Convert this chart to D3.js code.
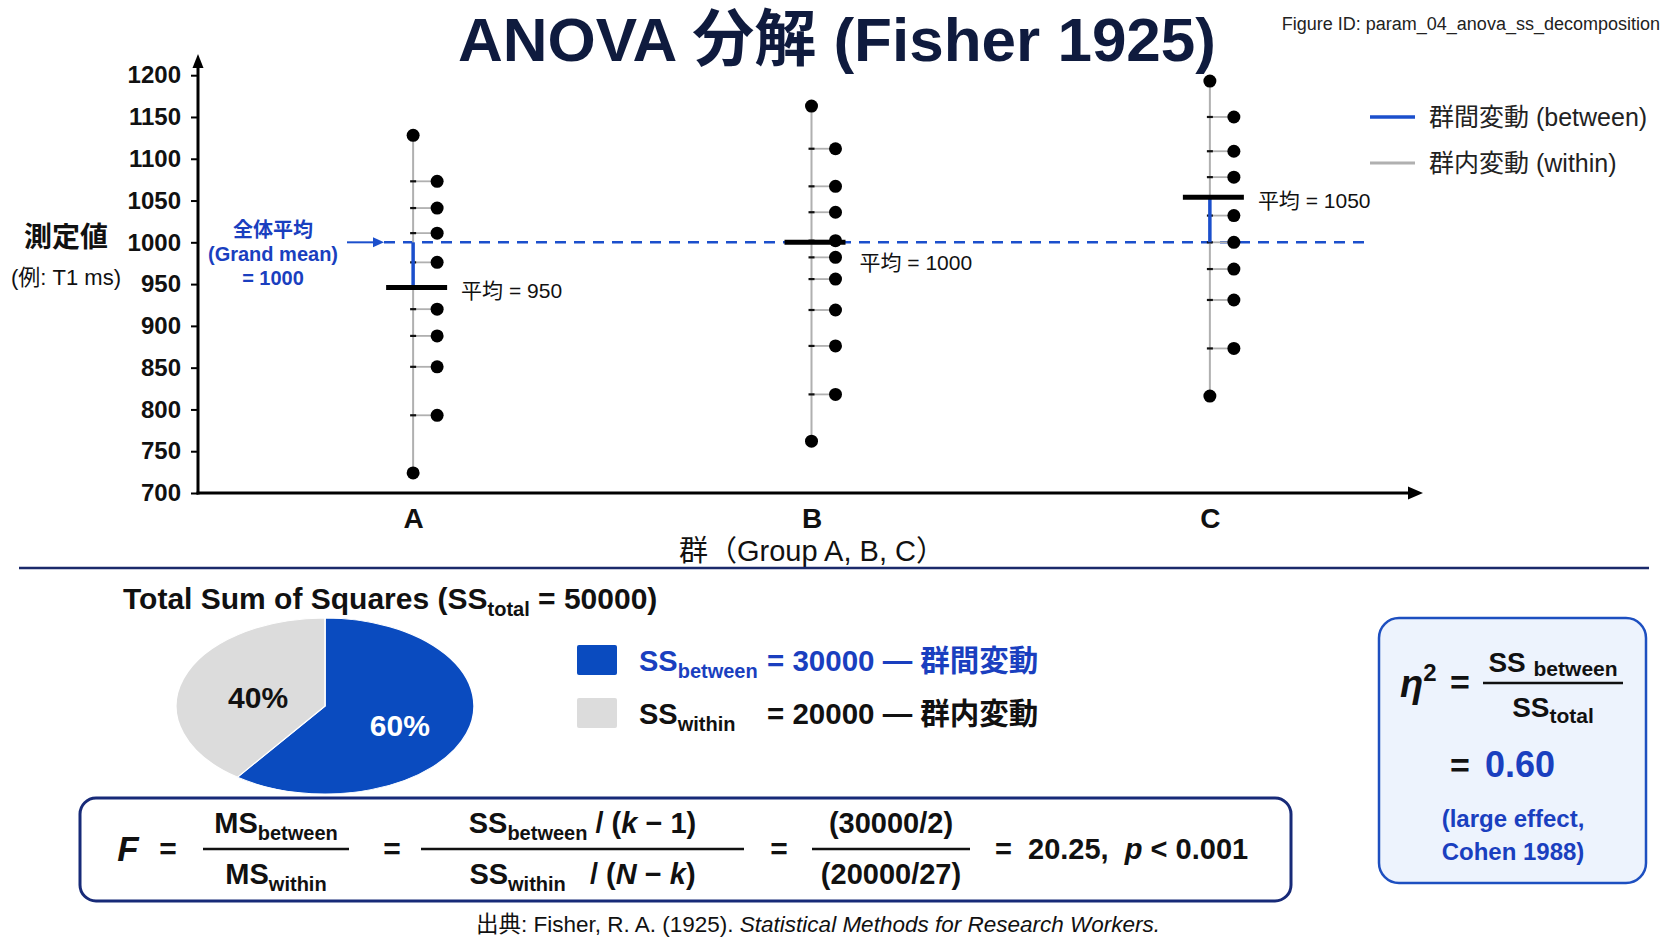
<!DOCTYPE html>
<html lang="ja">
<head>
<meta charset="utf-8">
<title>ANOVA 分解 (Fisher 1925)</title>
<script src="https://cdnjs.cloudflare.com/ajax/libs/d3/7.8.5/d3.min.js"></script>
<style>
	body {
		margin: 0;
		padding: 0;
		background: #fff;
	}

	svg {
		display: block;
		font-family: "Liberation Sans", Arial, "Noto Sans CJK JP", sans-serif;
	}

	text {
		white-space: pre;
	}
</style>
</head>

<body>
	<svg id="chart" width="1672" height="941"></svg>
	<script>

		// Data
		var groups = ["A", "B", "C"];
		var groupA = [1128, 1073, 1041, 1011, 976, 920, 888, 851, 793, 724];
		var groupB = [1163, 1112, 1067, 1036, 1002, 982, 956, 919, 876, 818, 762];
		var groupC = [1193, 1150, 1109, 1078, 1032, 1000, 968, 931, 873, 816];
		var groupMeans = [946, 1000, 1054];
		var meanLabels = ["平均 = 950", "平均 = 1000", "平均 = 1050"];
		var grandMean = 1000;
		var yTicks = [700, 750, 800, 850, 900, 950, 1000, 1050, 1100, 1150, 1200];

		var ssNames = ["between", "within"];
		var ssValues = [30000, 20000];
		var ssPercent = ["60%", "40%"];
		var ssJapanese = ["群間変動", "群内変動"];

		// Colors
		var navy = "#0f1b3e";
		var blueLine = "#1b4fcc";
		var blueText = "#1a3fbf";
		var pieBlue = "#0a4bbf";
		var pieGray = "#dcdcdc";
		var grayLine = "#b0b0b0";

		var svg = d3.select("#chart");

		// ---------- helpers ----------
		// parts: [text, kind]  kind: "" normal, "s" subscript, "i" italic, "u" superscript
		function rich(g, x, y, parts, o) {
			var t = g.append("text")
				.attr("x", x).attr("y", y)
				.attr("text-anchor", o.anchor || "start")
				.attr("font-size", o.size)
				.attr("font-weight", o.weight || "bold")
				.attr("fill", o.fill || "#111");
			var shift = 0;
			parts.forEach(function (p) {
				var kind = p[1] || "";
				var target = 0;
				var s = t.append("tspan").text(p[0]);
				if (kind.indexOf("s") >= 0) { target = o.subDy || 7; s.attr("font-size", o.subSize); }
				if (kind.indexOf("u") >= 0) { target = -(o.supDy || 14); s.attr("font-size", o.subSize); }
				if (kind.indexOf("i") >= 0) s.attr("font-style", "italic");
				if (target - shift !== 0) s.attr("dy", target - shift);
				shift = target;
			});
			return t;
		}

		// ---------- title ----------
		svg.append("text")
			.attr("x", 837).attr("y", 61)
			.attr("text-anchor", "middle")
			.attr("font-size", 62).attr("font-weight", "bold")
			.attr("fill", navy)
			.text("ANOVA 分解 (Fisher 1925)");

		svg.append("text")
			.attr("x", 1660).attr("y", 30)
			.attr("text-anchor", "end")
			.attr("font-size", 18)
			.attr("fill", "#222")
			.text("Figure ID: param_04_anova_ss_decomposition");

		// ---------- scatter / decomposition plot ----------
		var x = d3.scalePoint().domain(groups).range([198, 1425]).padding(0.54);
		var y = d3.scaleLinear().domain([700, 1200]).range([493, 75.2]);

		var plot = svg.append("g");

		var yAxis = plot.append("g")
			.attr("transform", "translate(198,0)")
			.call(d3.axisLeft(y).tickValues(yTicks).tickFormat(d3.format("d")).tickSize(7).tickPadding(10));
		yAxis.select(".domain").remove();
		yAxis.selectAll("line").attr("stroke", "#000").attr("stroke-width", 2);
		yAxis.selectAll("text")
			.attr("font-size", 24).attr("font-weight", "bold")
			.attr("font-family", "Liberation Sans, Arial, sans-serif")
			.attr("fill", "#111");

		var xAxis = plot.append("g")
			.attr("transform", "translate(0,493)")
			.call(d3.axisBottom(x).tickSize(0).tickPadding(15));
		xAxis.select(".domain").remove();
		xAxis.selectAll("text")
			.attr("font-size", 28).attr("font-weight", "bold")
			.attr("font-family", "Liberation Sans, Arial, sans-serif")
			.attr("fill", "#111");

		// axis lines with arrows
		plot.append("line").attr("x1", 198).attr("x2", 198).attr("y1", 494.5).attr("y2", 66)
			.attr("stroke", "#000").attr("stroke-width", 3);
		plot.append("path").attr("d", "M198,54 L192.5,68 L203.5,68 Z").attr("fill", "#000");
		plot.append("line").attr("x1", 196.5).attr("x2", 1410).attr("y1", 493).attr("y2", 493)
			.attr("stroke", "#000").attr("stroke-width", 3);
		plot.append("path").attr("d", "M1423,493 L1408,486.5 L1408,499.5 Z").attr("fill", "#000");

		// axis titles
		svg.append("text").attr("x", 66).attr("y", 247).attr("text-anchor", "middle")
			.attr("font-size", 28).attr("font-weight", "bold").attr("fill", "#111").text("測定値");
		svg.append("text").attr("x", 66).attr("y", 285).attr("text-anchor", "middle")
			.attr("font-size", 22).attr("fill", "#111").text("(例: T1 ms)");
		svg.append("text").attr("x", 812).attr("y", 561).attr("text-anchor", "middle")
			.attr("font-size", 29).attr("fill", "#111").text("群（Group A, B, C）");

		// grand mean dashed line + annotation
		plot.append("line")
			.attr("x1", 384).attr("x2", 1370)
			.attr("y1", y(grandMean)).attr("y2", y(grandMean))
			.attr("stroke", blueLine).attr("stroke-width", 2.5)
			.attr("stroke-dasharray", "11,8");
		plot.append("line")
			.attr("x1", 347).attr("x2", 374)
			.attr("y1", y(grandMean)).attr("y2", y(grandMean))
			.attr("stroke", blueLine).attr("stroke-width", 2);
		plot.append("path")
			.attr("d", "M384," + y(grandMean) + " l-11,-5 l0,10 Z")
			.attr("fill", blueLine);
		var gmLines = ["全体平均", "(Grand mean)", "= 1000"];
		svg.selectAll("text.gm").data(gmLines).enter().append("text")
			.attr("class", "gm")
			.attr("x", 273).attr("y", function (d, i) { return 237 + i * 24; })
			.attr("text-anchor", "middle")
			.attr("font-size", 20).attr("font-weight", "bold")
			.attr("fill", blueText)
			.text(function (d) { return d; });

		// groups
		var groupData = [groupA, groupB, groupC];
		var dotOffset = 24;

		groupData.forEach(function (vals, gi) {
			var gx = x(groups[gi]);
			var lo = d3.min(vals), hi = d3.max(vals);
			var g = plot.append("g");

			// within-group range line
			g.append("line")
				.attr("x1", gx).attr("x2", gx)
				.attr("y1", y(hi)).attr("y2", y(lo))
				.attr("stroke", grayLine).attr("stroke-width", 2);

			var pts = vals.map(function (v) {
				return { v: v, dx: (v === lo || v === hi) ? 0 : dotOffset };
			});

			// connectors
			g.selectAll("line.conn").data(pts.filter(function (d) { return d.dx > 0; }))
				.enter().append("line").attr("class", "conn")
				.attr("x1", gx).attr("x2", function (d) { return gx + d.dx; })
				.attr("y1", function (d) { return y(d.v); })
				.attr("y2", function (d) { return y(d.v); })
				.attr("stroke", grayLine).attr("stroke-width", 1.8);
			g.selectAll("line.tick").data(pts.filter(function (d) { return d.dx > 0; }))
				.enter().append("line").attr("class", "tick")
				.attr("x1", gx - 3).attr("x2", gx + 3)
				.attr("y1", function (d) { return y(d.v); })
				.attr("y2", function (d) { return y(d.v); })
				.attr("stroke", "#111").attr("stroke-width", 2.2);

			// between-group segment
			if (groupMeans[gi] !== grandMean) {
				g.append("line")
					.attr("x1", gx).attr("x2", gx)
					.attr("y1", y(grandMean)).attr("y2", y(groupMeans[gi]))
					.attr("stroke", blueLine).attr("stroke-width", 3.5);
			}

			// group mean bar
			g.append("line")
				.attr("x1", gx - 27).attr("x2", gx + 34)
				.attr("y1", y(groupMeans[gi])).attr("y2", y(groupMeans[gi]))
				.attr("stroke", "#000").attr("stroke-width", 5);

			// dots
			g.selectAll("circle").data(pts).enter().append("circle")
				.attr("cx", function (d) { return gx + d.dx; })
				.attr("cy", function (d) { return y(d.v); })
				.attr("r", 6.5)
				.attr("fill", "#000");

			// mean label
			g.append("text")
				.attr("x", gx + 48)
				.attr("y", y(groupMeans[gi]) + (groupMeans[gi] === grandMean ? 28 : 11))
				.attr("font-size", 21)
				.attr("fill", "#111")
				.text(meanLabels[gi]);
		});

		// legend (top right)
		var legendItems = [
			{ label: "群間変動 (between)", color: blueLine, w: 3.5 },
			{ label: "群内変動 (within)", color: grayLine, w: 3 }
		];
		var leg = svg.append("g").selectAll("g").data(legendItems).enter().append("g")
			.attr("transform", function (d, i) { return "translate(1370," + (117 + i * 46) + ")"; });
		leg.append("line").attr("x1", 0).attr("x2", 45)
			.attr("stroke", function (d) { return d.color; })
			.attr("stroke-width", function (d) { return d.w; });
		leg.append("text").attr("x", 59).attr("y", 9)
			.attr("font-size", 25).attr("fill", "#222")
			.text(function (d) { return d.label; });

		// separator
		svg.append("line").attr("x1", 19).attr("x2", 1649).attr("y1", 568).attr("y2", 568)
			.attr("stroke", "#1b2a6b").attr("stroke-width", 2.5);

		// ---------- pie of sums of squares ----------
		rich(svg, 123, 609, [["Total Sum of Squares (SS"], ["total", "s"], [" = 50000)"]],
			{ size: 30, subSize: 20, subDy: 7, fill: "#111" });

		var pieCx = 325, pieCy = 706, pieRx = 149, pieRy = 88;
		var pie = d3.pie().sort(null)(ssValues);
		var arc = d3.arc().innerRadius(0).outerRadius(pieRx);
		var pieG = svg.append("g")
			.attr("transform", "translate(" + pieCx + "," + pieCy + ") scale(1," + (pieRy / pieRx) + ")");
		pieG.selectAll("path").data(pie).enter().append("path")
			.attr("d", arc)
			.attr("fill", function (d, i) { return i === 0 ? pieBlue : pieGray; })
			.attr("stroke", "#fff").attr("stroke-width", 1.5);
		var labelArc = d3.arc().innerRadius(pieRx * 0.5).outerRadius(pieRx * 0.5);
		svg.selectAll("text.pct").data(pie).enter().append("text")
			.attr("class", "pct")
			.attr("x", function (d) { return pieCx + labelArc.centroid(d)[0] + 4; })
			.attr("y", function (d) { return pieCy + labelArc.centroid(d)[1] * pieRy / pieRx + 16; })
			.attr("text-anchor", "middle")
			.attr("font-size", 30).attr("font-weight", "bold")
			.attr("fill", function (d, i) { return i === 0 ? "#fff" : "#111"; })
			.text(function (d, i) { return ssPercent[i]; });

		// pie legend
		ssValues.forEach(function (v, i) {
			var yy = 645 + i * 53;
			var col = i === 0 ? blueText : "#111";
			svg.append("rect").attr("x", 577).attr("y", yy).attr("width", 40).attr("height", 30)
				.attr("rx", 2)
				.attr("fill", i === 0 ? pieBlue : pieGray);
			rich(svg, 639, yy + 26, [["SS"], [ssNames[i], "s"]],
				{ size: 29, subSize: 20, subDy: 7, fill: col });
			svg.append("text").attr("x", 767).attr("y", yy + 26)
				.attr("font-size", 29.5).attr("font-weight", "bold").attr("fill", col)
				.text("= " + v + " — " + ssJapanese[i]);
		});

		// ---------- F formula box ----------
		var fb = svg.append("g");
		fb.append("rect").attr("x", 80).attr("y", 798).attr("width", 1211).attr("height", 103)
			.attr("rx", 16).attr("fill", "#fff")
			.attr("stroke", "#172a78").attr("stroke-width", 3);

		var fo = { size: 29, subSize: 20, subDy: 7, fill: "#111" };
		var midY = 849;
		fb.append("text").attr("x", 128).attr("y", midY + 12).attr("text-anchor", "middle")
			.attr("font-size", 35).attr("font-weight", "bold").attr("font-style", "italic")
			.attr("fill", "#111").text("F");

		[168, 392, 779].forEach(function (ex) {
			fb.append("text").attr("x", ex).attr("y", midY + 10).attr("text-anchor", "middle")
				.attr("font-size", 30).attr("font-weight", "bold").attr("fill", "#111").text("=");
		});

		var fracs = [
			{ x1: 203, x2: 349, num: [["MS"], ["between", "s"]], den: [["MS"], ["within", "s"]] },
			{ x1: 421, x2: 744, num: [["SS"], ["between", "s"], [" / ("], ["k", "i"], [" − 1)"]],
				den: [["SS"], ["within", "s"], ["   / ("], ["N", "i"], [" − "], ["k", "i"], [")"]] },
			{ x1: 812, x2: 970, num: [["(30000/2)"]], den: [["(20000/27)"]] }
		];
		fracs.forEach(function (f) {
			var cx = (f.x1 + f.x2) / 2;
			fb.append("line").attr("x1", f.x1).attr("x2", f.x2).attr("y1", midY).attr("y2", midY)
				.attr("stroke", "#111").attr("stroke-width", 2.5);
			rich(fb, cx, midY - 16, f.num, Object.assign({ anchor: "middle" }, fo));
			rich(fb, cx, midY + 35, f.den, Object.assign({ anchor: "middle" }, fo));
		});
		rich(fb, 995, midY + 10, [["=  20.25,  "], ["p", "i"], [" < 0.001"]], fo);

		// ---------- eta squared box ----------
		var eb = svg.append("g");
		eb.append("rect").attr("x", 1379).attr("y", 618).attr("width", 267).attr("height", 265)
			.attr("rx", 20).attr("fill", "#edf3fd")
			.attr("stroke", "#1d4fc0").attr("stroke-width", 2.5);
		rich(eb, 1400, 697, [["η", "i"], ["2", "u"]], { size: 38, subSize: 24, supDy: 16, fill: "#111" });
		eb.append("text").attr("x", 1460).attr("y", 694).attr("text-anchor", "middle")
			.attr("font-size", 34).attr("font-weight", "bold").attr("fill", "#111").text("=");
		eb.append("line").attr("x1", 1483).attr("x2", 1623).attr("y1", 683).attr("y2", 683)
			.attr("stroke", "#111").attr("stroke-width", 2.5);
		rich(eb, 1553, 672, [["SS "], ["between", "s"]], { anchor: "middle", size: 28, subSize: 21, subDy: 4, fill: "#111" });
		rich(eb, 1553, 717, [["SS"], ["total", "s"]], { anchor: "middle", size: 28, subSize: 21, subDy: 6, fill: "#111" });
		eb.append("text").attr("x", 1460).attr("y", 777).attr("text-anchor", "middle")
			.attr("font-size", 34).attr("font-weight", "bold").attr("fill", "#111").text("=");
		eb.append("text").attr("x", 1485).attr("y", 777)
			.attr("font-size", 36).attr("font-weight", "bold").attr("fill", blueText).text("0.60");
		["(large effect,", "Cohen 1988)"].forEach(function (s, i) {
			eb.append("text").attr("x", 1513).attr("y", 827 + i * 33).attr("text-anchor", "middle")
				.attr("font-size", 24).attr("font-weight", "bold").attr("fill", blueText).text(s);
		});

		// ---------- source ----------
		var src = svg.append("text").attr("x", 818).attr("y", 932).attr("text-anchor", "middle")
			.attr("font-size", 22.5).attr("fill", "#111");
		src.append("tspan").text("出典: Fisher, R. A. (1925). ");
		src.append("tspan").attr("font-style", "italic").text("Statistical Methods for Research Workers.");

	</script>
</body>
</html>
